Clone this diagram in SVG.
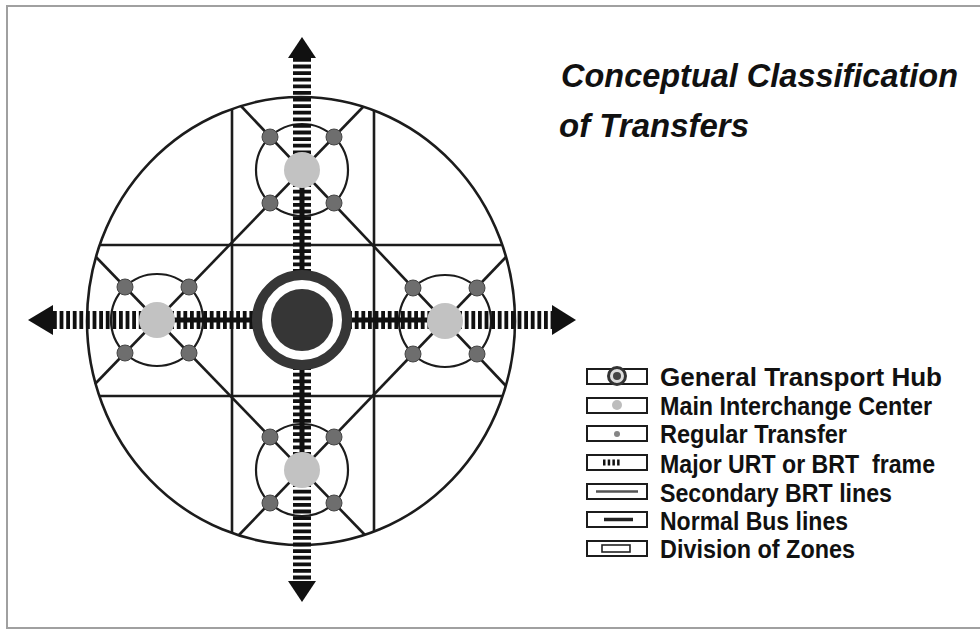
<svg xmlns="http://www.w3.org/2000/svg" width="980" height="630" viewBox="0 0 980 630">
<style>
.ink{stroke:#1c1c1c;fill:none;stroke-width:2.6}
.sc{stroke:#1c1c1c;fill:none;stroke-width:2.2}
.bars{stroke:#111;stroke-width:18;stroke-dasharray:3.8 2.8;fill:none}
.spine{stroke:#111;stroke-width:5}
.arrow{fill:#111}
.sm{fill:#6e6e6e;stroke:#444;stroke-width:1}
.big{fill:#c2c2c2}
.lbox{fill:#fff;stroke:#1c1c1c;stroke-width:2}
.lt{font-family:"Liberation Sans",Arial,sans-serif;font-weight:bold;font-size:25px;fill:#111}
.title{font-family:"Liberation Sans",Arial,sans-serif;font-weight:bold;font-style:italic;font-size:34px;fill:#111}
</style>
<rect x="0" y="0" width="980" height="630" fill="#fff"/>
<rect x="7" y="6" width="990" height="622" fill="none" stroke="#a0a0a0" stroke-width="2"/>

<g id="zones">
<ellipse class="ink" cx="301" cy="321" rx="214" ry="224"/>
<line class="ink" x1="232" y1="109" x2="232" y2="533"/>
<line class="ink" x1="374" y1="110" x2="374" y2="532"/>
<line class="ink" x1="100" y1="245" x2="502" y2="245"/>
<line class="ink" x1="99" y1="396" x2="503" y2="396"/>
</g>

<g id="connectors">
<line class="ink" x1="241" y1="106" x2="506" y2="386"/>
<line class="ink" x1="363" y1="107" x2="95" y2="384"/>
<line class="ink" x1="96" y1="257" x2="365" y2="535"/>
<line class="ink" x1="506" y1="257" x2="239" y2="535"/>
<circle class="sc" cx="302" cy="170" r="46"/>
<circle class="sc" cx="157" cy="320" r="46"/>
<circle class="sc" cx="445" cy="321" r="46"/>
<circle class="sc" cx="302" cy="470" r="46"/>
<line class="bars" x1="53" y1="320" x2="157" y2="320"/>
<line class="bars" x1="157" y1="320" x2="302" y2="320"/>
<line class="spine" x1="157" y1="320" x2="302" y2="320"/>
<line class="bars" x1="302" y1="320" x2="445" y2="320"/>
<line class="spine" x1="302" y1="320" x2="445" y2="320"/>
<line class="bars" x1="445" y1="320" x2="552" y2="320"/>
<line class="bars" x1="302" y1="58" x2="302" y2="170"/>
<line class="bars" x1="302" y1="170" x2="302" y2="320"/>
<line class="spine" x1="302" y1="170" x2="302" y2="320"/>
<line class="bars" x1="302" y1="320" x2="302" y2="470"/>
<line class="spine" x1="302" y1="320" x2="302" y2="470"/>
<line class="bars" x1="302" y1="470" x2="302" y2="581"/>
<polygon class="arrow" points="28,320 53,305 53,335"/>
<polygon class="arrow" points="576,320 552,305 552,335"/>
<polygon class="arrow" points="302,37 288,58 316,58"/>
<polygon class="arrow" points="302,602 288,581 316,581"/>
</g>

<g id="transfers-top">
<circle class="sm" cx="270" cy="137" r="8"/>
<circle class="sm" cx="334" cy="137" r="8"/>
<circle class="sm" cx="270" cy="203" r="8"/>
<circle class="sm" cx="334" cy="203" r="8"/>
</g>
<g id="transfers-left">
<circle class="sm" cx="125" cy="287" r="8"/>
<circle class="sm" cx="189" cy="287" r="8"/>
<circle class="sm" cx="125" cy="353" r="8"/>
<circle class="sm" cx="189" cy="353" r="8"/>
</g>
<g id="transfers-right">
<circle class="sm" cx="413" cy="288" r="8"/>
<circle class="sm" cx="477" cy="288" r="8"/>
<circle class="sm" cx="413" cy="354" r="8"/>
<circle class="sm" cx="477" cy="354" r="8"/>
</g>
<g id="transfers-bottom">
<circle class="sm" cx="270" cy="437" r="8"/>
<circle class="sm" cx="334" cy="437" r="8"/>
<circle class="sm" cx="270" cy="503" r="8"/>
<circle class="sm" cx="334" cy="503" r="8"/>
</g>

<g id="center-top"><circle class="big" cx="302" cy="170" r="18"/></g>
<g id="center-left"><circle class="big" cx="157" cy="320" r="18"/></g>
<g id="center-right"><circle class="big" cx="445" cy="321" r="18"/></g>
<g id="center-bottom"><circle class="big" cx="302" cy="470" r="18"/></g>

<g id="hub">
<circle cx="302" cy="320" r="45" fill="#fff" stroke="#363636" stroke-width="10"/>
<circle cx="302" cy="320" r="31" fill="#363636"/>
</g>

<g id="title">
<text class="title" x="561" y="87" textLength="397" lengthAdjust="spacingAndGlyphs">Conceptual Classification</text>
<text class="title" x="559" y="137" textLength="190" lengthAdjust="spacingAndGlyphs">of Transfers</text>
</g>

<g id="legend">
<rect class="lbox" x="587" y="369" width="60" height="15"/>
<circle cx="617" cy="376" r="8.5" fill="#ddd" stroke="#333" stroke-width="3"/>
<circle cx="617" cy="376" r="4" fill="#444"/>
<text class="lt" x="660" y="386" textLength="282" lengthAdjust="spacingAndGlyphs">General Transport Hub</text>

<rect class="lbox" x="587" y="398" width="60" height="15"/>
<circle cx="617" cy="405" r="5" fill="#bdbdbd"/>
<text class="lt" x="660" y="415" textLength="272" lengthAdjust="spacingAndGlyphs">Main Interchange Center</text>

<rect class="lbox" x="587" y="426" width="60" height="15"/>
<circle cx="617" cy="434" r="3" fill="#858585"/>
<text class="lt" x="660" y="443" textLength="187" lengthAdjust="spacingAndGlyphs">Regular Transfer</text>

<rect class="lbox" x="587" y="455" width="60" height="15"/>
<line x1="603" y1="462.5" x2="621" y2="462.5" stroke="#111" stroke-width="6" stroke-dasharray="2.5 2.2"/>
<text class="lt" x="660" y="473" textLength="275" lengthAdjust="spacingAndGlyphs" xml:space="preserve">Major URT or BRT  frame</text>

<rect class="lbox" x="587" y="484" width="60" height="15"/>
<line x1="596" y1="491.5" x2="638" y2="491.5" stroke="#555" stroke-width="2.5"/>
<text class="lt" x="660" y="502" textLength="232" lengthAdjust="spacingAndGlyphs">Secondary BRT lines</text>

<rect class="lbox" x="587" y="512" width="60" height="15"/>
<line x1="604" y1="519.5" x2="633" y2="519.5" stroke="#222" stroke-width="3.5"/>
<text class="lt" x="660" y="530" textLength="188" lengthAdjust="spacingAndGlyphs">Normal Bus lines</text>

<rect class="lbox" x="587" y="541" width="60" height="15"/>
<rect x="602" y="545" width="28" height="7" fill="none" stroke="#222" stroke-width="1.6"/>
<text class="lt" x="660" y="558" textLength="195" lengthAdjust="spacingAndGlyphs">Division of Zones</text>
</g>
</svg>
